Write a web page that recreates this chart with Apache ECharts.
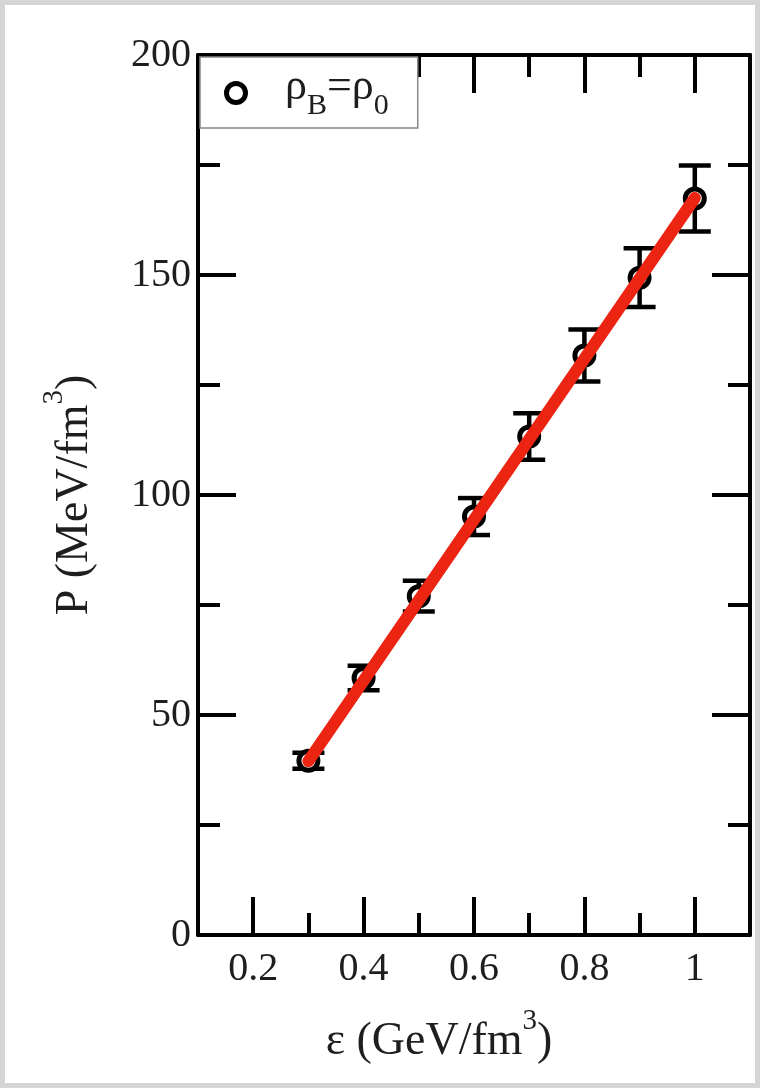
<!DOCTYPE html>
<html>
<head>
<meta charset="utf-8">
<title>Pressure vs energy density</title>
<script src="https://cdn.jsdelivr.net/npm/echarts@6/dist/echarts.min.js"></script>
<style>
  html, body { margin: 0; padding: 0; background: #d5d5d5; }
  #paper { position: absolute; left: 5px; top: 5px; width: 750px; height: 1078px; background: #ffffff; }
  #chart { position: absolute; left: 0; top: 0; width: 760px; height: 1088px; }
</style>
</head>
<body>
<div id="paper"></div>
<div id="chart"></div>
<script>
// Energy density (GeV/fm^3) and pressure (MeV/fm^3) at rho_B = rho_0
const energyDensity = [0.3, 0.4, 0.5, 0.6, 0.7, 0.8, 0.9, 1.0];
const pressure      = [39.6, 58.4, 77.0, 95.1, 113.3, 131.7, 149.4, 167.4];
const pressureErr   = [1.8, 2.8, 3.5, 4.2, 5.3, 5.9, 6.7, 7.5];

// Linear fit end points
const fitEnergy   = [0.3, 1.0];
const fitPressure = [39.5, 167.5];

// Tick positions
const xMajorTicks = [0.2, 0.4, 0.6, 0.8, 1.0];
const xMinorTicks = [0.3, 0.5, 0.7, 0.9];
const yRange = [0, 200];
const yStep = 50;

const seriesName = 'rhoB';
const serif = 'Liberation Serif';
const frame = '#000000';
const ink = '#1e1e1e';

const points = energyDensity.map((x, i) => [x, pressure[i]]);
const bars = energyDensity.map((x, i) => [x, pressure[i] - pressureErr[i], pressure[i] + pressureErr[i]]);
const fitLine = fitEnergy.map((x, i) => [x, fitPressure[i]]);

const chart = echarts.init(document.getElementById('chart'), null, { renderer: 'canvas' });

// One x axis per tick family (major / minor) and per side (bottom / top)
function xAxisDef(position, ticks, len, withLabels, withLine) {
  return {
    type: 'value', position: position, min: 0.1, max: 1.1,
    axisLine: { show: withLine, onZero: false, lineStyle: { color: frame, width: 4 } },
    axisTick: { show: true, inside: true, length: len, customValues: ticks,
                lineStyle: { color: frame, width: 4 } },
    axisLabel: { show: withLabels, customValues: ticks, margin: 14,
                 fontFamily: serif, fontSize: 40, color: ink,
                 formatter: v => String(Math.round(v * 10) / 10) },
    splitLine: { show: false }
  };
}

function yAxisDef(position, withLabels) {
  return {
    type: 'value', position: position, min: yRange[0], max: yRange[1], interval: yStep,
    axisLine: { show: true, onZero: false, lineStyle: { color: frame, width: 4 } },
    axisTick: { show: true, inside: true, length: 38, lineStyle: { color: frame, width: 4 } },
    minorTick: { show: true, splitNumber: 2, length: 22, lineStyle: { color: frame, width: 4 } },
    axisLabel: { show: withLabels, margin: 7, fontFamily: serif, fontSize: 40, color: ink },
    splitLine: { show: false }
  };
}

const titleRich = {
  t: { fontFamily: serif, fontSize: 46, color: ink, lineHeight: 58, verticalAlign: 'bottom' },
  s: { fontFamily: serif, fontSize: 29, color: ink, lineHeight: 58, verticalAlign: 'top' }
};

const xMain = xAxisDef('bottom', xMajorTicks, 38, true, true);
xMain.name = '{t|\u03b5 (GeV/fm}{s|3}{t|)}';
xMain.nameLocation = 'middle';
xMain.nameGap = 72;
xMain.nameTextStyle = { rich: titleRich, padding: [0, 70, 0, 0] };

const yMain = yAxisDef('left', true);
yMain.name = '{t|P (MeV/fm}{s|3}{t|)}';
yMain.nameLocation = 'middle';
yMain.nameRotate = 90;
yMain.nameGap = 100;
yMain.nameTextStyle = { rich: titleRich };

const option = {
  animation: false,
  backgroundColor: 'transparent',
  grid: { left: 198, top: 55, right: 10, bottom: 153, containLabel: false },
  xAxis: [
    xMain,
    xAxisDef('bottom', xMinorTicks, 22, false, false),
    xAxisDef('top', xMajorTicks, 38, false, true),
    xAxisDef('top', xMinorTicks, 22, false, false)
  ],
  yAxis: [yMain, yAxisDef('right', false)],
  legend: {
    data: [seriesName],
    left: 200, top: 57,
    orient: 'vertical',
    backgroundColor: '#ffffff',
    borderColor: '#888888', borderWidth: 1.5, borderRadius: 0,
    padding: [8, 29, 7, 24],
    itemWidth: 40, itemHeight: 19,
    icon: 'circle',
    itemStyle: { color: '#ffffff', borderColor: '#000000', borderWidth: 5 },
    formatter: () => '{r|\u03c1}{b|B}{r|=\u03c1}{b|0}',
    textStyle: {
      padding: [0, 0, 0, 24],
      rich: {
        r: { fontFamily: serif, fontSize: 44, color: ink, lineHeight: 50, verticalAlign: 'top' },
        b: { fontFamily: serif, fontSize: 30, color: ink, lineHeight: 56, verticalAlign: 'bottom' }
      }
    },
    z: 10
  },
  series: [
    {
      name: 'errors', type: 'custom', data: bars, z: 3,
      renderItem: (params, api) => {
        const top = api.coord([api.value(0), api.value(2)]);
        const bot = api.coord([api.value(0), api.value(1)]);
        const hw = 16;
        const st = { stroke: '#000000', lineWidth: 4.5 };
        return {
          type: 'group',
          children: [
            { type: 'line', shape: { x1: top[0], y1: top[1], x2: bot[0], y2: bot[1] }, style: st },
            { type: 'line', shape: { x1: top[0] - hw, y1: top[1], x2: top[0] + hw, y2: top[1] }, style: st },
            { type: 'line', shape: { x1: bot[0] - hw, y1: bot[1], x2: bot[0] + hw, y2: bot[1] }, style: st }
          ]
        };
      }
    },
    {
      name: seriesName, type: 'scatter', data: points, z: 4,
      symbol: 'circle', symbolSize: 19,
      itemStyle: { color: '#ffffff', borderColor: '#000000', borderWidth: 5, opacity: 1 }
    },
    {
      name: 'fit', type: 'line', data: fitLine, z: 5,
      showSymbol: false, symbol: 'none',
      lineStyle: { color: '#ec2412', width: 12, cap: 'round' }
    }
  ]
};

chart.setOption(option);
</script>
</body>
</html>
